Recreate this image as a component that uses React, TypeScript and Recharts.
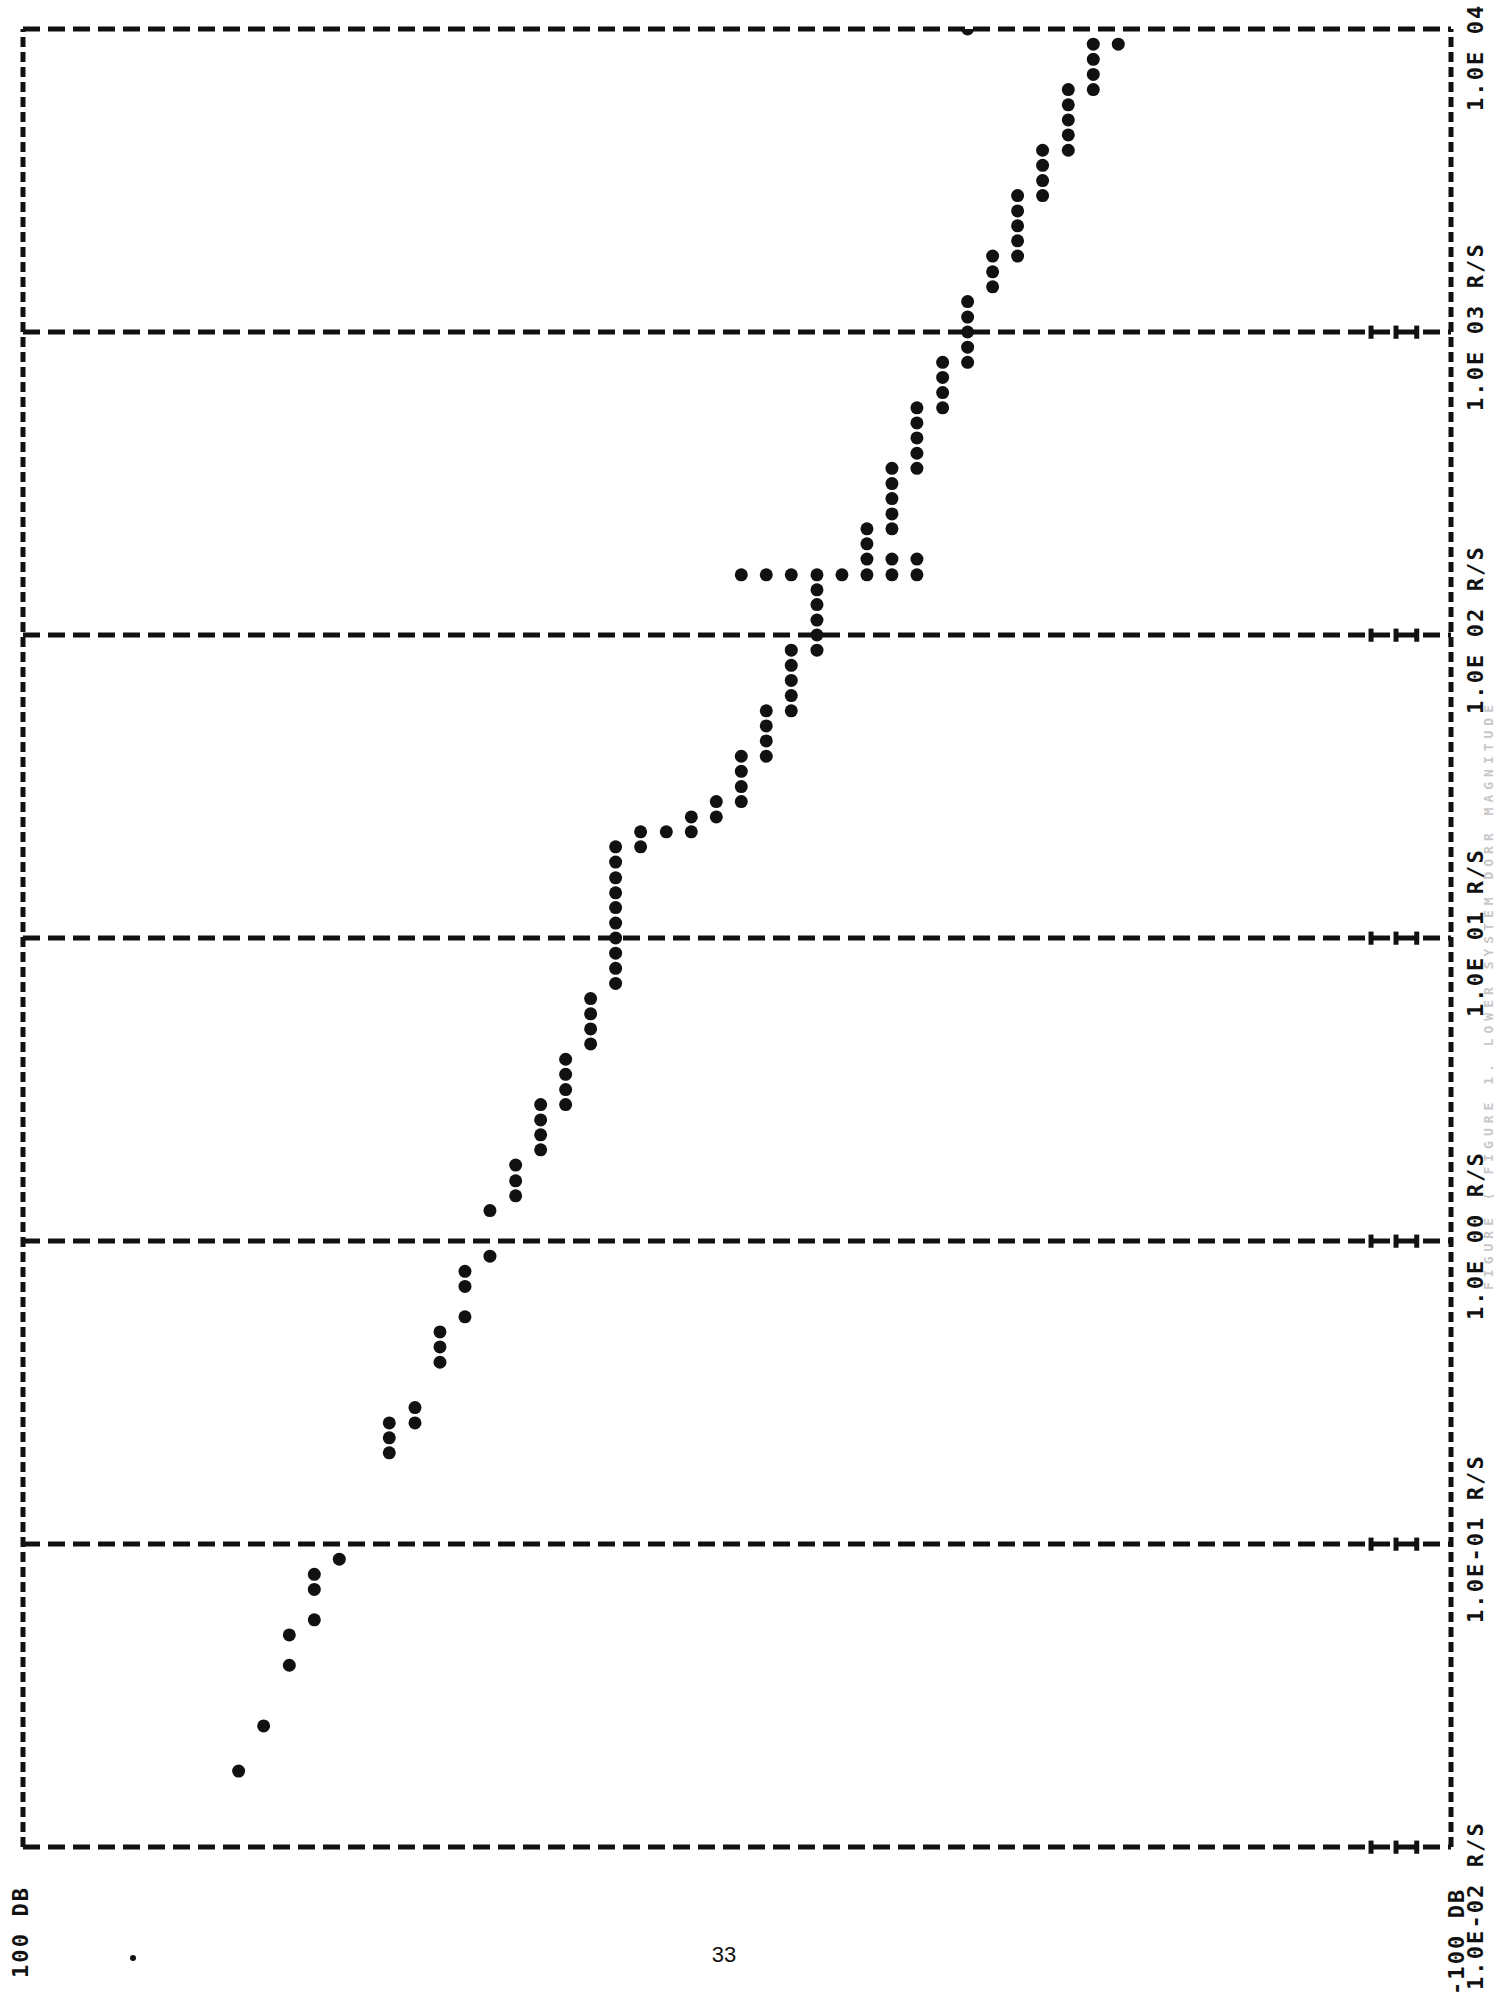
import { ScatterChart, Scatter, XAxis, YAxis, ReferenceLine } from 'recharts';

// decade grid lines (rad/s) and their printed labels
const DECADES = [0.01, 0.1, 1, 10, 100, 1000, 10000];
const DECADE_LABELS = ['1.0E-02 R/S', '1.0E-01 R/S', '1.0E 00 R/S', '1.0E 01 R/S', '1.0E 02 R/S', '1.0E 03 R/S', '1.0E 04'];

// printer columns: magnitude (dB) of each column and the frequencies (rad/s) marked in it
const COLUMN_DB = [
  69.8, 66.3, 62.7, 59.2, 55.7, 48.7, 45.1, 41.6, 38.1, 34.6, 31.0, 27.5, 24.0, 20.5, 17.0, 13.5, 9.9,
  6.4, 2.9, -0.6, -4.1, -7.6, -11.2, -18.2, -21.7, -25.2, -28.8, -32.3, -35.8, -39.3, -42.8, -46.4, -49.9, -53.4,
];
const COLUMN_FREQS = [
  [0.0178],
  [0.0251],
  [0.0398, 0.0501],
  [0.0562, 0.0708, 0.0794],
  [0.0891],
  [0.2, 0.224, 0.251],
  [0.251, 0.282],
  [0.398, 0.447, 0.501],
  [0.562, 0.708, 0.794],
  [0.891, 1.26],
  [1.41, 1.58, 1.78],
  [2.0, 2.24, 2.51, 2.82],
  [2.82, 3.16, 3.55, 3.98],
  [4.47, 5.01, 5.62, 6.31],
  [7.08, 7.94, 8.91, 10, 11.2, 12.6, 14.1, 15.8, 17.8, 20.0],
  [20.0, 22.4],
  [22.4],
  [22.4, 25.1],
  [25.1, 28.2],
  [28.2, 31.6, 35.5, 39.8],
  [39.8, 44.7, 50.1, 56.2],
  [56.2, 63.1, 70.8, 79.4, 89.1],
  [89.1, 100, 112, 126, 141],
  [178, 200, 224],
  [178, 224, 251, 282, 316, 355],
  [178, 355, 398, 447, 501, 562],
  [562, 631, 708, 794],
  [794, 891, 1000, 1120, 1260, 10000],
  [1410, 1580, 1780],
  [1780, 2000, 2240, 2510, 2820],
  [2820, 3160, 3550, 3980],
  [3980, 4470, 5010, 5620, 6310],
  [6310, 7080, 7940, 8910],
  [8910],
];

// the marker row printed across the plot
const MARKER_FREQ = 158;
const MARKER_DB = [-0.6, -4.1, -7.6, -11.2, -14.7, -18.2, -21.7, -25.2];

// "I" tick marks printed near the right end of each grid line
const TICK_DB = [-88.8, -92.3, -95.2];

const points = COLUMN_DB.flatMap((db, i) => COLUMN_FREQS[i].map((freq) => ({ db, freq })));
const markerPoints = MARKER_DB.map((db) => ({ db, freq: MARKER_FREQ }));

const INK = '#111';
const FONT = '"DejaVu Sans Mono", monospace';

const Dot = (props: any) => <circle cx={props.cx} cy={props.cy} r={6.5} fill={INK} />;

const DecadeLabel = (props: any) => {
  const { viewBox, text, bottom, top } = props;
  if (!viewBox) return null;
  const x = viewBox.x + viewBox.width + 32;
  const y = viewBox.y + (bottom ? 143 : top ? 82 : 79);
  return (
    <text x={x} y={y} transform={`rotate(-90 ${x} ${y})`} fontFamily={FONT} fontWeight="bold"
      fontSize={22} letterSpacing={2.1} fill={INK}>
      {text}
    </text>
  );
};

const Rot = ({ x, y, children, size = 22, fill = INK, spacing = 2.1 }: any) => (
  <text x={x} y={y} transform={`rotate(-90 ${x} ${y})`} fontFamily={FONT} fontWeight="bold"
    fontSize={size} letterSpacing={spacing} fill={fill}>
    {children}
  </text>
);

export default function App() {
  return (
    <div style={{ position: 'absolute', left: 0, top: 0, width: 1497, height: 2003, background: '#fff', overflow: 'hidden' }}>
      <ScatterChart width={1497} height={2003} margin={{ top: 29, right: 46, bottom: 156, left: 23 }}>
        <XAxis type="number" dataKey="db" domain={[-100, 100]} reversed hide />
        <YAxis type="number" dataKey="freq" scale="log" domain={[0.01, 10000]} allowDataOverflow hide />
        {DECADES.map((d, i) => (
          <ReferenceLine key={d} y={d} stroke={INK} strokeWidth={5} strokeDasharray="17 8"
            label={<DecadeLabel text={DECADE_LABELS[i]} bottom={i === 0} top={i === DECADES.length - 1} />} />
        ))}
        <ReferenceLine x={100} stroke={INK} strokeWidth={5} strokeDasharray="10 5" />
        <ReferenceLine x={-100} stroke={INK} strokeWidth={5} strokeDasharray="10 5" />
        {DECADES.slice(0, -1).flatMap((d) =>
          TICK_DB.map((t) => (
            <ReferenceLine key={`${d}-${t}`} stroke={INK} strokeWidth={5}
              segment={[{ x: t, y: d * 0.95 }, { x: t, y: d * 1.05 }]} ifOverflow="visible" />
          ))
        )}
        <Scatter data={points} shape={<Dot />} isAnimationActive={false} />
        <Scatter data={markerPoints} shape={<Dot />} isAnimationActive={false} />
      </ScatterChart>
      <svg width={1497} height={2003} style={{ position: 'absolute', left: 0, top: 0, pointerEvents: 'none' }}>
        <Rot x={28} y={1978}>100 DB</Rot>
        <Rot x={1464} y={1995}>-100 DB</Rot>
        <Rot x={1493} y={1290} size={13} spacing={5} fill="#c8c8c8">FIGURE (   FIGURE 1. LOWER SYSTEM DORR MAGNITUDE</Rot>
        <text x={724} y={1962} textAnchor="middle" fontFamily='"Liberation Sans", Arial, sans-serif' fontSize={22} fill={INK}>33</text>
        <circle cx={133} cy={1958} r={3} fill={INK} />
      </svg>
    </div>
  );
}
